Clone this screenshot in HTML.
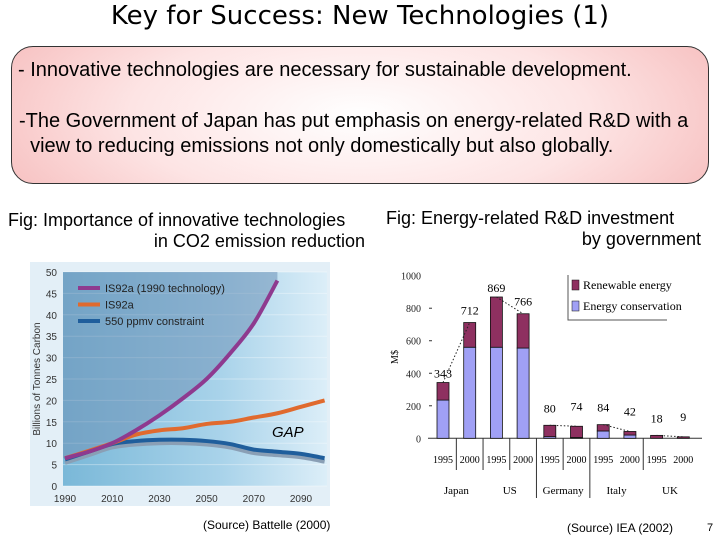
<!DOCTYPE html>
<html><head><meta charset="utf-8">
<style>
body{margin:0;width:720px;height:540px;background:#fff;overflow:hidden;position:relative;font-family:"Liberation Sans",sans-serif}
.t{position:absolute;white-space:nowrap}
</style></head>
<body>
<div class="t" style="left:0;width:720px;top:1px;text-align:center;font-family:'DejaVu Sans',sans-serif;font-size:26px;color:#000">Key for Success: New Technologies (1)</div>
<div style="position:absolute;left:11px;top:46px;width:696px;height:136px;border:1px solid #333;border-radius:22px;background:radial-gradient(ellipse 60% 120% at 50% 50%,#fff 0%,#fde4e4 55%,#f6bcbc 100%)"></div>
<div class="t" style="left:18px;top:59px;font-size:20px">- Innovative technologies are necessary for sustainable development.</div>
<div class="t" style="left:19px;top:109px;font-size:20px;line-height:25px">-The Government of Japan has put emphasis on energy-related R&amp;D with a<br>&nbsp;&nbsp;view to reducing emissions not only domestically but also globally.</div>
<div class="t" style="left:8px;top:210px;font-size:18px">Fig: Importance of innovative technologies</div>
<div class="t" style="right:355px;top:231px;font-size:18px">in CO2 emission reduction</div>
<div class="t" style="left:386px;top:208px;font-size:18px">Fig: Energy-related R&amp;D investment</div>
<div class="t" style="right:19px;top:229px;font-size:18px">by government</div>
<div class="t" style="left:203px;top:518px;font-size:12px">(Source) Battelle (2000)</div>
<div class="t" style="left:567px;top:521px;font-size:12px">(Source) IEA (2002)</div>
<div class="t" style="left:707px;top:522px;font-size:11px">7</div>

<svg id="left" width="720" height="540" style="position:absolute;left:0;top:0">
<defs>
<linearGradient id="bg" x1="0" x2="1" y1="0" y2="0"><stop offset="0" stop-color="#7ab8d8"/><stop offset="0.6" stop-color="#a9d3ea"/><stop offset="1" stop-color="#dceef8"/></linearGradient>
</defs>
<rect x="30" y="262" width="300" height="244" fill="#e3eff7"/>
<rect x="63" y="272" width="264" height="214" fill="url(#bg)"/>
<g id="lg"></g>
</svg>
<svg id="right" width="720" height="540" style="position:absolute;left:0;top:0"><g id="rg"></g></svg>

<script>
const NS="http://www.w3.org/2000/svg";
function mk(p,tag,attrs){const e=document.createElementNS(NS,tag);for(const k in attrs)e.setAttribute(k,attrs[k]);p.appendChild(e);return e;}

// ---- left chart data ----
const years=[1990,2000,2010,2020,2030,2040,2050,2060,2070,2080,2090,2100];
const tech1990=[6.5,8,10,13,16.5,20.5,25,31,38,48,null,null];
const is92a=[6.5,8.2,10,12,13,13.5,14.5,15,16,17,18.5,20];
const ppmv550=[6.2,8,9.8,10.5,10.8,10.8,10.5,9.8,8.5,8,7.5,6.5];
const leftYTicks=[0,5,10,15,20,25,30,35,40,45,50];
const leftXTicks=[1990,2010,2030,2050,2070,2090];

const lx=y=>65+(y-1990)*2.36, ly=v=>486-v*4.28;
const lg=document.getElementById('lg');
for(const t of leftYTicks){
  const g=mk(lg,'line',{x1:63,x2:327,y1:ly(t),y2:ly(t),stroke:'#ffffff',"stroke-opacity":0.35,"stroke-width":1});
  
  const tx=mk(lg,'text',{x:57,y:ly(t)+4,"text-anchor":"end","font-size":10,fill:'#333'});tx.textContent=t;
  
}
for(const t of leftXTicks){
  const tx=mk(lg,'text',{x:lx(t),y:502,"text-anchor":"middle","font-size":10,fill:'#333'});tx.textContent=t;
  
}
const yt=mk(lg,'text',{x:40,y:379,"text-anchor":"middle","font-size":10,fill:'#333',transform:'rotate(-90 40 379)'});yt.textContent='Billions of Tonnes Carbon';


function pts(arr){const p=[];arr.forEach((v,i)=>{if(v!=null)p.push([lx(years[i]),ly(v)]);});return p;}
function smooth(p){let d=`M${p[0][0]},${p[0][1]}`;for(let i=0;i<p.length-1;i++){const p0=p[i-1]||p[i],p1=p[i],p2=p[i+1],p3=p[i+2]||p2;d+=` C${p1[0]+(p2[0]-p0[0])/6},${p1[1]+(p2[1]-p0[1])/6} ${p2[0]-(p3[0]-p1[0])/6},${p2[1]-(p3[1]-p1[1])/6} ${p2[0]},${p2[1]}`;}return d;}
const pp=pts(tech1990);
const area=mk(lg,'path',{d:smooth(pp)+` L${pp[pp.length-1][0]},272 L63,272 L63,${pp[0][1]} Z`,fill:'#6f93b8',"fill-opacity":0.55});

const clip=mk(lg,'clipPath',{id:'pc'});mk(clip,'rect',{x:63,y:272,width:264,height:214});
const shadow=mk(lg,'path',{d:smooth(pts(ppmv550.map(v=>v-0.8))),fill:'none',stroke:'#8a9fb5',"stroke-width":4,"clip-path":'url(#pc)'});

const series=[[ppmv550,'#1f5e9c','line-550-ppmv'],[is92a,'#e06a2e','line-is92a'],[tech1990,'#8e3a8f','line-is92a-1990-tech']];
for(const [arr,c,n] of series){
  const pth=mk(lg,'path',{d:smooth(pts(arr)),fill:'none',stroke:c,"stroke-width":4,"clip-path":'url(#pc)'});
  
}
const legendItems=[['IS92a (1990 technology)','#8e3a8f'],['IS92a','#e06a2e'],['550 ppmv constraint','#1f5e9c']];
legendItems.forEach(([l,c],i)=>{
  const y=288+i*16.5;
  const ln=mk(lg,'line',{x1:78,x2:100,y1:y,y2:y,stroke:c,"stroke-width":4});
  
  const tx=mk(lg,'text',{x:105,y:y+4,"font-size":11,fill:'#222'});tx.textContent=l;
  
});
const gap=mk(lg,'text',{x:272,y:437,"font-size":15,"font-style":"italic",fill:'#000'});gap.textContent='GAP';


// ---- right chart data ----
const barYears=['1995','2000','1995','2000','1995','2000','1995','2000','1995','2000'];
const countries=['Japan','US','Germany','Italy','UK'];
const totals=[343,712,869,766,80,74,84,42,18,9];
const conservation=[235,560,560,555,10,5,45,20,0,0];
const rightYTicks=[0,200,400,600,800,1000];

const rg=document.getElementById('rg');
const ry=v=>438.3-v*0.1626, rx=i=>443+i*26.7, bw=12;
mk(rg,'line',{x1:428,x2:702,y1:438.3,y2:438.3,stroke:'#333',"stroke-width":1});
for(const t of rightYTicks){
  const tx=mk(rg,'text',{x:421,y:ry(t)+4,"text-anchor":"end","font-size":10,"font-family":"Liberation Serif,serif",fill:'#222'});tx.textContent=t;
  
  if(t>0&&t<1000){const tk=mk(rg,'line',{x1:429,x2:432,y1:ry(t),y2:ry(t),stroke:'#333'});}
}
const ms=mk(rg,'text',{x:398,y:357,"text-anchor":"middle","font-size":10,"font-family":"Liberation Serif,serif",transform:'rotate(-90 398 357)'});ms.textContent='M$';

totals.forEach((tot,i)=>{
  const c=conservation[i];
  const r1=mk(rg,'rect',{x:rx(i)-bw/2,y:ry(c),width:bw,height:ry(0)-ry(c),fill:'#a0a0f5',stroke:'#111',"stroke-width":0.8});
  
  const r2=mk(rg,'rect',{x:rx(i)-bw/2,y:ry(tot),width:bw,height:ry(c)-ry(tot),fill:'#8e3060',stroke:'#111',"stroke-width":0.8});
  
  const lab=mk(rg,'text',{x:rx(i),y:ry(tot)-(i%2?8:5)-(tot<100?8:0),"text-anchor":"middle","font-size":12,"font-family":"Liberation Serif,serif"});lab.textContent=tot;
  
  const yl=mk(rg,'text',{x:rx(i),y:463,"text-anchor":"middle","font-size":10,"font-family":"Liberation Serif,serif"});yl.textContent=barYears[i];
  
});
for(let g=0;g<5;g++){
  const a=2*g,b=2*g+1;
  const dl=mk(rg,'line',{x1:rx(a),y1:ry(totals[a]),x2:rx(b),y2:ry(totals[b]),stroke:'#222',"stroke-dasharray":'1.5,2',"stroke-width":1});
  
  const cl=mk(rg,'text',{x:(rx(a)+rx(b))/2,y:494,"text-anchor":"middle","font-size":11,"font-family":"Liberation Serif,serif"});cl.textContent=countries[g];
  
  const sx=(rx(b)+rx(b+1))/2;
  if(g<4){const s=mk(rg,'line',{x1:sx,x2:sx,y1:438,y2:(g==1||g==2)?498:470,stroke:'#333'});}
  const sx2=(rx(a)+rx(b))/2;
  if(g<3){const s=mk(rg,'line',{x1:sx2,x2:sx2,y1:438,y2:470,stroke:'#333'});}
}
const lb=mk(rg,'path',{d:'M568,275 L568,320 L667,320',fill:'none',stroke:'#555'});
[['Renewable energy','#8e3060'],['Energy conservation','#a0a0f5']].forEach(([l,c],i)=>{
  const y=285+i*21;
  const s=mk(rg,'rect',{x:572,y:y-5,width:7,height:10,fill:c,stroke:'#111',"stroke-width":0.5});
  const t=mk(rg,'text',{x:583,y:y+4,"font-size":12,"font-family":"Liberation Serif,serif"});t.textContent=l;
  
});
</script>
</body></html>
